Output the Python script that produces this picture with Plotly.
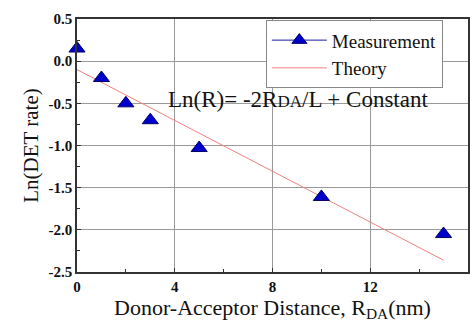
import plotly.graph_objects as go

meas_x = [0, 1, 2, 3, 5, 10, 15]
meas_y = [0.15, -0.2, -0.5, -0.7, -1.03, -1.61, -2.05]
theory_x = [0, 15]
theory_y = [-0.1, -2.36]
x_ticks = [0, 4, 8, 12, 16]
y_ticks = [0.5, 0.0, -0.5, -1.0, -1.5, -2.0, -2.5]
y_ticktext = ["0.5", "0.0", "-0.5", "-1.0", "-1.5", "-2.0", "-2.5"]

serif = "Liberation Serif"

fig = go.Figure()
fig.add_trace(go.Scatter(x=theory_x, y=theory_y, mode="lines",
                         line=dict(color="#f08080", width=1), showlegend=False))
fig.add_trace(go.Scatter(x=meas_x, y=meas_y, mode="markers",
                         marker=dict(symbol="triangle-up", size=14, color="#0000cc",
                                     line=dict(color="#000066", width=1)),
                         showlegend=False, cliponaxis=False))
fig.add_trace(go.Scatter(x=[None], y=[None], mode="lines+markers", name="Measurement",
                         line=dict(color="#1a1aa0", width=1),
                         marker=dict(symbol="triangle-up", size=13, color="#0000cc",
                                     line=dict(color="#000066", width=1))))
fig.add_trace(go.Scatter(x=[None], y=[None], mode="lines", name="Theory",
                         line=dict(color="#f08080", width=1)))

fig.add_annotation(x=3.65, y=-0.46, xref="x", yref="y", xanchor="left", yanchor="middle",
                   text="Ln(R)= -2R<span style='font-size:17px'>DA</span>/L + Constant",
                   showarrow=False, font=dict(family=serif, size=23, color="#111"))

axis_common = dict(showline=True, linecolor="#333", linewidth=1.5, mirror=True,
                   showgrid=True, gridcolor="#999", gridwidth=1, zeroline=False,
                   ticks="inside", ticklen=4, tickcolor="#333",
                   tickfont=dict(family=serif, size=15, color="#111", weight="bold"))

fig.update_xaxes(range=[0, 16], tickvals=x_ticks, ticktext=[str(v) for v in x_ticks],
                 minor=dict(ticks="inside", ticklen=3, dtick=2, tickcolor="#333", showgrid=False),
                 title=dict(text="Donor-Acceptor Distance, R<sub>DA</sub>(nm)",
                            font=dict(family=serif, size=22, color="#111"), standoff=4),
                 **axis_common)
fig.update_yaxes(range=[-2.5, 0.5], tickvals=y_ticks, ticktext=y_ticktext,
                 minor=dict(ticks="inside", ticklen=3, dtick=0.25, tickcolor="#333", showgrid=False),
                 title=dict(text="Ln(DET rate)", font=dict(family=serif, size=21, color="#111"),
                            standoff=4),
                 **axis_common)

fig.update_layout(width=475, height=323, margin=dict(l=77, r=5, t=19, b=51),
                  font=dict(family=serif, color="#111"),
                  plot_bgcolor="white", paper_bgcolor="white",
                  legend=dict(x=0.483, y=0.995, xanchor="left", yanchor="top",
                              bgcolor="white", bordercolor="#888", borderwidth=1,
                              font=dict(family=serif, size=19, color="#111"),
                              tracegroupgap=0, itemwidth=55))

fig.write_html("out.html")
